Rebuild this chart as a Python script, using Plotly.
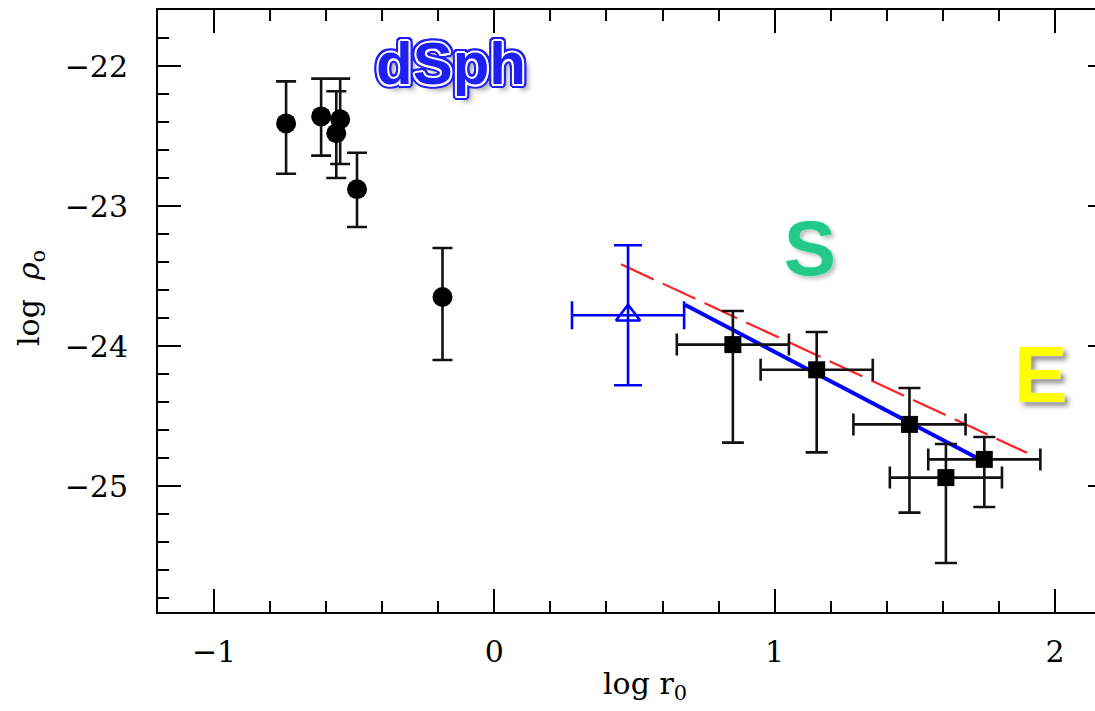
import plotly.graph_objects as go

# dSph galaxies (filled circles)
dsph_x = [-0.743, -0.618, -0.564, -0.550, -0.490, -0.185]
dsph_y = [-22.41, -22.36, -22.48, -22.38, -22.88, -23.65]
dsph_err_plus = [0.30, 0.27, 0.30, 0.29, 0.26, 0.35]
dsph_err_minus = [0.36, 0.28, 0.32, 0.32, 0.27, 0.45]

# open blue triangle
tri_x = [0.477]
tri_y = [-23.78]
tri_yerr = [0.50]
tri_xerr = [0.20]

# black squares
sq_x = [0.851, 1.150, 1.481, 1.611, 1.748]
sq_y = [-23.99, -24.17, -24.56, -24.94, -24.81]
sq_err_plus = [0.24, 0.27, 0.26, 0.24, 0.16]
sq_err_minus = [0.70, 0.59, 0.63, 0.61, 0.34]
sq_xerr = [0.20, 0.20, 0.20, 0.20, 0.20]

# relations
blue_x = [0.680, 1.721]
blue_y = [-23.706, -24.798]
red_x = [0.452, 1.900]
red_y = [-23.416, -24.763]

x_ticks = [-1, 0, 1, 2]
y_ticks = [-25, -24, -23, -22]

fig = go.Figure()

fig.add_trace(go.Scatter(x=red_x, y=red_y, mode="lines",
                         line=dict(color="#ff2020", width=2.2, dash="36px,10px")))
fig.add_trace(go.Scatter(x=blue_x, y=blue_y, mode="lines",
                         line=dict(color="#0000ff", width=4)))

fig.add_trace(go.Scatter(
    x=dsph_x, y=dsph_y, mode="markers",
    marker=dict(symbol="circle", size=20, color="black"),
    error_y=dict(type="data", symmetric=False, array=dsph_err_plus,
                 arrayminus=dsph_err_minus, color="#111111", thickness=2.6, width=10)))

fig.add_trace(go.Scatter(
    x=tri_x, y=tri_y, mode="markers",
    marker=dict(symbol="triangle-up-open", size=21, color="#0000ff",
                line=dict(color="#0000ff", width=2.6)),
    error_y=dict(type="data", array=tri_yerr, color="#0000ff", thickness=2.6, width=14),
    error_x=dict(type="data", array=tri_xerr, color="#0000ff", thickness=2.6, width=14)))

fig.add_trace(go.Scatter(
    x=sq_x, y=sq_y, mode="markers",
    marker=dict(symbol="square", size=17, color="black"),
    error_y=dict(type="data", symmetric=False, array=sq_err_plus,
                 arrayminus=sq_err_minus, color="#111111", thickness=2.6, width=11),
    error_x=dict(type="data", array=sq_xerr, color="#111111", thickness=2.6, width=11)))

tick_font = dict(family="DejaVu Serif", size=30, color="black")

axis_common = dict(
    showgrid=False, zeroline=False, showline=True, linecolor="black", linewidth=2,
    mirror="allticks", ticks="inside", ticklen=23, tickwidth=2, tickcolor="black",
    tickfont=tick_font,
    minor=dict(ticks="inside", ticklen=11, tickwidth=2, tickcolor="black", dtick=0.2),
)

fig.update_xaxes(range=[-1.2, 2.2], tickvals=x_ticks, ticklabelstandoff=12, **axis_common)
fig.update_yaxes(range=[-25.9, -21.6], tickvals=y_ticks, ticklabelstandoff=22, **axis_common)

# outlined dSph label
white = ",".join(f"{dx}px {dy}px 0 #ffffff" for dx, dy in
                 [(2, 0), (-2, 0), (0, 2), (0, -2), (1.5, 1.5), (-1.5, 1.5), (1.5, -1.5), (-1.5, -1.5)])
blue = ",".join(f"{dx}px {dy}px 0 #1f1ff5" for dx, dy in
                [(4, 0), (-4, 0), (0, 4), (0, -4), (3, 3), (-3, 3), (3, -3), (-3, -3),
                 (4, 2), (-4, 2), (4, -2), (-4, -2), (2, 4), (-2, 4), (2, -4), (-2, -4)])
dsph_shadow = white + "," + blue + ",6px 6px 5px rgba(0,0,0,0.35)"

annotations = [
    dict(x=-0.155, y=-21.98, xref="x", yref="y", text="<b>dSph</b>", showarrow=False,
         font=dict(family="Liberation Sans", size=60, color="#1f1ff5", shadow=dsph_shadow)),
    dict(x=1.127, y=-23.30, xref="x", yref="y", text="<b>S</b>", showarrow=False,
         font=dict(family="Liberation Sans", size=78, color="#22c98b",
                   shadow="0 0 2px #9ff0d0, 0 0 1px #9ff0d0, 3px 3px 4px rgba(0,0,0,0.25)")),
    dict(x=1.947, y=-24.20, xref="x", yref="y", text="<b>E</b>", showarrow=False,
         font=dict(family="Liberation Sans", size=80, color="#ffff00",
                   shadow="0 0 2px #ffffff, 4px 4px 5px rgba(0,0,0,0.45)")),
    dict(x=645, y=685, xref="paper", yref="paper", text="log r<sub>0</sub>", showarrow=False,
         font=dict(family="DejaVu Serif", size=30, color="black")),
    dict(x=30, y=298, xref="paper", yref="paper", text="log  <i>ρ</i><sub>o</sub>", showarrow=False,
         textangle=-90, font=dict(family="DejaVu Serif", size=30, color="black")),
]

W, H = 1112, 711
ML, MR, MT, MB = 158, 1, 10, 99
# convert pixel-placed titles to paper coords
for a in annotations[3:]:
    a["x"] = (a["x"] - ML) / (W - ML - MR)
    a["y"] = (H - MB - a["y"]) / (H - MT - MB)
    a["xanchor"] = "center"
    a["yanchor"] = "middle"

fig.update_layout(
    width=W, height=H,
    margin=dict(l=ML, r=MR, t=MT, b=MB, autoexpand=False),
    paper_bgcolor="white", plot_bgcolor="white",
    showlegend=False,
    annotations=annotations,
)

fig.write_html("out.html",
               post_script="document.documentElement.style.overflow='hidden';document.body.style.overflow='hidden';")
